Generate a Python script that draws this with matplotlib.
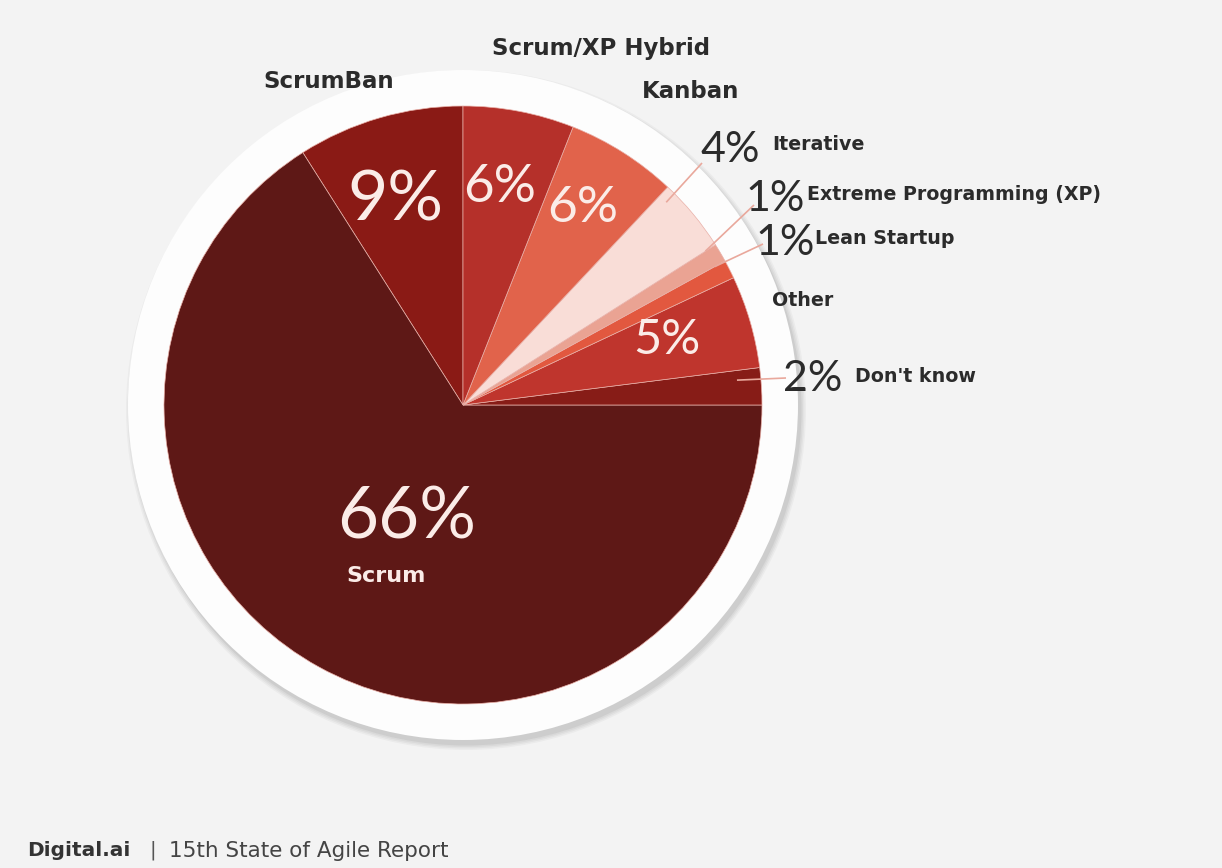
import numpy as np
import matplotlib as mpl
mpl.use("Agg")
import matplotlib.pyplot as plt
from matplotlib.patches import Circle

W, H = 1222, 868

# data, counter-clockwise from 12 o'clock
methods = ["ScrumBan", "Scrum", "Don't know", "Other", "Lean Startup",
           "Extreme Programming (XP)", "Iterative", "Kanban", "Scrum/XP Hybrid"]
shares = [9, 66, 2, 5, 1, 1, 4, 6, 6]
colors = ["#8a1a15", "#5e1816", "#871c17", "#bf352d", "#e2583f",
          "#eaa393", "#f9ddd7", "#e1634b", "#b5302a"]

plt.rcParams['font.family'] = ['DejaVu Sans']
NUMFONT = ['Lato', 'DejaVu Sans']

fig = plt.figure(figsize=(W / 100, H / 100), dpi=100)
fig.patch.set_facecolor("#f3f3f3")
ax = fig.add_axes([0, 0, 1, 1])
ax.set_facecolor("#f3f3f3")

def py(y):
    return H - y

cx, cy, R = 463, py(405), 299

# white ring with soft shadow
for k, a in enumerate([0.03, 0.035, 0.04, 0.05]):
    ax.add_patch(Circle((cx + 3, cy - 5), 335 + 5 - k * 1.5, color="#000000",
                        alpha=a, lw=0, zorder=0))
ax.add_patch(Circle((cx, cy), 335, color="#fdfdfd", lw=0, zorder=1))

wedges, _ = ax.pie(shares, colors=colors, startangle=90, counterclock=True,
                   center=(cx, cy), radius=R, frame=True,
                   wedgeprops=dict(edgecolor="#e9b0a8", linewidth=0.5))
for w in wedges:
    w.set_zorder(2)

ax.set_xlim(0, W)
ax.set_ylim(0, H)
ax.set_aspect("equal")
ax.axis("off")

dark = "#2b2b2b"
light = "#fbece8"

# labels on top of the pie
ax.text(395, py(201), "9%", fontsize=50, color=light, family=NUMFONT,
        ha="center", va="center", zorder=5)
ax.text(500, py(188), "6%", fontsize=38, color=light, family=NUMFONT,
        ha="center", va="center", zorder=5)
ax.text(583, py(208), "6%", fontsize=37, color=light, family=NUMFONT,
        ha="center", va="center", zorder=5)
ax.text(667, py(340), "5%", fontsize=35, color=light, family=NUMFONT,
        ha="center", va="center", zorder=5)
ax.text(407, py(518), "66%", fontsize=51, color=light, family=NUMFONT,
        ha="center", va="center", zorder=5)
ax.text(386, py(576), "Scrum", fontsize=16, color=light, weight="bold",
        ha="center", va="center", zorder=5)

# outside labels
ax.text(329, py(82), "ScrumBan", fontsize=16.5, color=dark, weight="bold",
        ha="center", va="center")
ax.text(601, py(48), "Scrum/XP Hybrid", fontsize=16.5, color=dark, weight="bold",
        ha="center", va="center")
ax.text(691, py(92), "Kanban", fontsize=16.5, color=dark, weight="bold",
        ha="center", va="center")
ax.text(772, py(300), "Other", fontsize=13.7, color=dark, weight="bold",
        ha="left", va="center")

# small slices with leader lines
callouts = [
    # name, where on the slice the line starts, pct pos, name pos, line end
    ("Iterative", 0.87, 0.96, (730, 150), (772, 145), (702, 163)),
    ("Extreme Programming (XP)", 1.0, 0.96, (775, 199), (807, 195), (754, 205)),
    ("Lean Startup", 1.0, 0.96, (785, 243), (815, 238), (763, 244)),
    ("Don't know", 0.72, 0.92, (813, 379), (855, 377), (786, 378)),
]
cum = np.cumsum([0] + shares)
for name, frac, rf, ppos, npos, lend in callouts:
    i = methods.index(name)
    ang = np.deg2rad(90 + 3.6 * (cum[i] + frac * shares[i]))
    x0, y0 = cx + rf * R * np.cos(ang), cy + rf * R * np.sin(ang)
    ax.plot([x0, lend[0]], [y0, py(lend[1])], color="#e9a89c", lw=1.2,
            zorder=4, solid_capstyle="butt")
    ax.text(ppos[0], py(ppos[1]), "%d%%" % shares[i], fontsize=31, color=dark,
            family=NUMFONT, ha="center", va="center", zorder=5)
    ax.text(npos[0], py(npos[1]), name, fontsize=13.7, color=dark, weight="bold",
            ha="left", va="center", zorder=5)

# footer
ax.text(27, py(851), "Digital.ai", fontsize=14.5, color="#333333", weight="bold",
        ha="left", va="center")
ax.text(149, py(850), "|", fontsize=14, color="#555555", ha="left", va="center")
ax.text(169, py(851), "15th State of Agile Report", fontsize=15.5,
        color="#444444", ha="left", va="center")

fig.savefig("out.png", dpi=100, facecolor=fig.get_facecolor())
